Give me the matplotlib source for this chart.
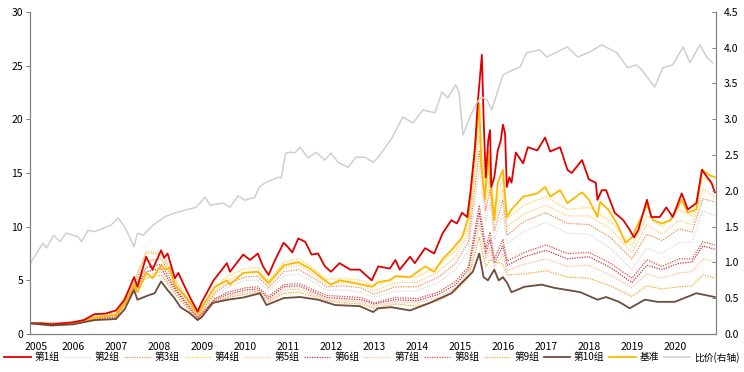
import matplotlib.pyplot as plt
import matplotlib.transforms as mtransforms

plt.rcParams['font.family'] = ['Noto Sans CJK SC', 'DejaVu Sans']

# 第1组 (red)
g1_dates = [2005.0, 2005.25, 2005.5, 2005.75, 2006.0, 2006.25, 2006.5, 2006.75, 2007.0, 2007.2,
            2007.42, 2007.5, 2007.7, 2007.85, 2008.05, 2008.12, 2008.2, 2008.37, 2008.45, 2008.6,
            2008.75, 2008.9, 2009.0, 2009.27, 2009.58, 2009.65, 2009.96, 2010.12, 2010.3, 2010.42,
            2010.55, 2010.7, 2010.9, 2011.0, 2011.1, 2011.24, 2011.4, 2011.55, 2011.7, 2011.86,
            2012.0, 2012.2, 2012.45, 2012.67, 2012.95, 2013.1, 2013.37, 2013.5, 2013.6, 2013.84,
            2013.95, 2014.19, 2014.4, 2014.6, 2014.8, 2014.93, 2015.05, 2015.17, 2015.25, 2015.35,
            2015.42, 2015.51, 2015.55, 2015.6, 2015.66, 2015.7, 2015.73, 2015.8, 2015.88, 2015.95,
            2016.0, 2016.05, 2016.09, 2016.15, 2016.2, 2016.3, 2016.47, 2016.58, 2016.8, 2016.98,
            2017.1, 2017.33, 2017.5, 2017.6, 2017.84, 2018.0, 2018.16, 2018.2, 2018.3, 2018.4,
            2018.6, 2018.8, 2018.95, 2019.05, 2019.15, 2019.35, 2019.45, 2019.65, 2019.8, 2019.95,
            2020.16, 2020.3, 2020.5, 2020.63, 2020.75, 2020.85, 2020.93]
g1_vals = [1.0, 1.0, 0.9, 1.0, 1.1, 1.3, 1.85, 1.9, 2.2, 3.2,
           5.3, 4.4, 7.2, 6.0, 7.8, 7.1, 7.5, 5.2, 5.7, 4.4,
           3.2, 2.1, 3.0, 5.0, 6.6, 5.8, 7.4, 6.9, 7.5, 6.3,
           5.5, 6.9, 8.5, 8.1, 7.6, 8.9, 8.6, 7.4, 7.5, 6.3,
           5.8, 6.6, 6.0, 6.0, 5.0, 6.3, 6.1, 6.9, 6.0, 7.2,
           6.6, 8.0, 7.5, 9.4, 10.6, 10.3, 11.3, 10.9, 13.4, 17.4,
           21.8, 26.0, 20.2, 14.6, 18.1, 19.0, 13.7, 14.6, 17.1, 18.0,
           19.5, 18.7, 13.7, 14.6, 14.1, 16.9, 15.9, 17.4, 17.1, 18.3,
           17.0, 17.4, 15.3, 15.0, 16.2, 14.4, 14.1, 12.5, 13.4, 13.4,
           11.3, 10.6, 9.7, 9.0, 9.7, 12.5, 10.9, 10.9, 11.8, 10.9,
           13.1, 11.6, 12.2, 15.3, 14.6, 14.1, 13.2]

# 基准 (benchmark)
bm_dates = [2005.0, 2005.5, 2006.0, 2006.5, 2007.0, 2007.2, 2007.42, 2007.5, 2007.7, 2007.85,
            2008.05, 2008.15, 2008.25, 2008.37, 2008.6, 2008.75, 2008.9, 2009.0, 2009.3, 2009.58,
            2009.65, 2009.96, 2010.3, 2010.55, 2010.9, 2011.24, 2011.55, 2011.86, 2012.0, 2012.2,
            2012.5, 2012.95, 2013.1, 2013.37, 2013.5, 2013.84, 2014.19, 2014.4, 2014.6, 2014.8,
            2015.05, 2015.2, 2015.35, 2015.45, 2015.5, 2015.58, 2015.66, 2015.7, 2015.8, 2015.88,
            2016.0, 2016.09, 2016.2, 2016.47, 2016.8, 2016.98, 2017.1, 2017.33, 2017.5, 2017.84,
            2018.0, 2018.2, 2018.26, 2018.45, 2018.65, 2018.85, 2019.0, 2019.35, 2019.5, 2019.7,
            2019.9, 2020.16, 2020.3, 2020.5, 2020.63, 2020.8, 2020.93]
bm_vals = [1.0, 0.85, 1.0, 1.5, 1.8, 2.8, 4.6, 3.9, 5.7, 5.2,
           6.4, 6.0, 6.2, 4.5, 3.6, 2.8, 1.9, 2.5, 4.4, 5.0,
           4.6, 5.7, 5.8, 4.75, 6.4, 6.7, 6.0, 5.0, 4.6, 5.0,
           4.8, 4.4, 4.85, 5.0, 5.4, 5.3, 6.3, 5.8, 7.0, 7.8,
           9.0, 10.9, 17.1, 21.5, 15.6, 12.5, 17.1, 14.4, 10.6, 14.1,
           15.3, 10.9, 11.6, 12.8, 13.1, 13.7, 12.8, 13.4, 12.2, 13.2,
           12.5, 10.9, 12.3, 11.6, 10.3, 8.5, 9.0, 12.0, 10.6, 10.3,
           10.6, 12.5, 11.3, 11.6, 15.3, 14.8, 14.6]

# 第10组 (brown)
g10_dates = [2005.0, 2005.5, 2006.0, 2006.5, 2007.0, 2007.2, 2007.42, 2007.5, 2007.75, 2007.9,
             2008.05, 2008.2, 2008.35, 2008.5, 2008.7, 2008.9, 2009.0, 2009.25, 2009.6, 2009.96,
             2010.35, 2010.5, 2010.9, 2011.28, 2011.7, 2012.1, 2012.67, 2012.98, 2013.1, 2013.4,
             2013.84, 2014.3, 2014.8, 2015.1, 2015.3, 2015.45, 2015.55, 2015.65, 2015.8, 2015.9,
             2016.0, 2016.1, 2016.2, 2016.5, 2016.9, 2017.2, 2017.8, 2018.2, 2018.4, 2018.7,
             2018.95, 2019.3, 2019.6, 2020.0, 2020.5, 2020.93]
g10_vals = [1.0, 0.8, 0.9, 1.3, 1.4, 2.3, 4.1, 3.2, 3.6, 3.8,
            4.9, 4.1, 3.4, 2.5, 2.0, 1.3, 1.6, 2.9, 3.2, 3.4,
            3.8, 2.7, 3.35, 3.45, 3.2, 2.7, 2.6, 2.05, 2.4, 2.5,
            2.2, 2.9, 3.8, 5.0, 5.8, 7.5, 5.3, 5.0, 6.0, 5.0,
            5.3, 4.75, 3.9, 4.4, 4.6, 4.3, 3.9, 3.2, 3.45, 3.0,
            2.4, 3.2, 3.0, 3.0, 3.8, 3.45]

# 第2组 ~ 第9组 on a coarser grid
mid_dates = [2005.0, 2006.0, 2006.5, 2007.0, 2007.42, 2007.7, 2008.05, 2008.4, 2008.9, 2009.3,
             2009.6, 2010.0, 2010.3, 2010.55, 2010.9, 2011.25, 2011.6, 2011.9, 2012.3, 2012.7,
             2013.0, 2013.5, 2014.0, 2014.5, 2014.9, 2015.2, 2015.45, 2015.6, 2015.7, 2015.8,
             2016.0, 2016.1, 2016.5, 2017.0, 2017.5, 2018.0, 2018.5, 2019.0, 2019.35, 2019.7,
             2020.1, 2020.4, 2020.65, 2020.93]
g2_vals = [1.0, 1.0, 1.5, 1.75, 4.5, 7.7, 7.8, 4.5, 1.65, 3.6, 4.4, 5.0, 5.0, 4.0, 5.4, 5.6,
           4.8, 4.1, 4.1, 3.9, 3.4, 4.0, 4.0, 4.8, 6.0, 7.8, 15.5, 10.5, 12.3, 8.8, 11.3, 8.4,
           9.6, 10.4, 9.4, 9.3, 8.0, 6.0, 8.0, 7.5, 8.5, 8.6, 11.5, 11.0]
g3_vals = [1.0, 1.0, 1.55, 1.8, 4.6, 6.8, 7.0, 4.6, 1.7, 3.8, 4.7, 5.3, 5.4, 4.3, 5.8, 6.0,
           5.2, 4.4, 4.5, 4.3, 3.7, 4.4, 4.4, 5.3, 6.6, 8.6, 17.0, 11.5, 13.5, 9.6, 12.5, 9.2,
           10.5, 11.3, 10.3, 10.2, 9.0, 7.0, 9.3, 8.7, 9.8, 9.5, 12.6, 12.3]
g4_vals = [1.0, 1.05, 1.7, 2.0, 5.0, 7.5, 7.6, 5.0, 1.9, 4.3, 5.4, 6.1, 6.2, 4.9, 6.7, 7.0,
           6.1, 5.1, 5.2, 5.0, 4.4, 5.3, 5.3, 6.4, 7.8, 10.0, 20.0, 13.5, 16.0, 11.5, 14.5, 10.8,
           12.0, 12.8, 11.6, 11.8, 10.5, 8.2, 11.0, 10.0, 11.6, 11.0, 14.6, 13.8]
g5_vals = [1.0, 1.0, 1.6, 1.9, 4.8, 7.6, 7.4, 4.8, 1.8, 4.0, 5.0, 5.7, 5.8, 4.5, 6.2, 6.4,
           5.6, 4.7, 4.8, 4.6, 4.0, 4.8, 4.8, 5.8, 7.2, 9.4, 18.5, 12.5, 14.5, 10.5, 13.5, 10.0,
           11.2, 12.0, 11.0, 11.0, 9.8, 7.6, 10.2, 9.3, 10.6, 10.2, 13.5, 12.8]
g6_vals = [1.0, 0.95, 1.4, 1.55, 4.2, 5.8, 6.1, 4.0, 1.45, 3.2, 3.7, 4.1, 4.2, 3.3, 4.4, 4.5,
           3.9, 3.4, 3.3, 3.2, 2.8, 3.2, 3.1, 3.7, 4.6, 6.0, 11.3, 7.5, 8.8, 6.6, 8.2, 6.4,
           7.2, 7.8, 7.0, 7.2, 6.2, 4.8, 6.4, 6.0, 6.6, 6.7, 8.2, 7.9]
g7_vals = [1.0, 0.95, 1.35, 1.5, 4.1, 5.5, 5.8, 3.8, 1.4, 3.1, 3.5, 3.9, 4.0, 3.1, 4.1, 4.2,
           3.7, 3.2, 3.1, 3.0, 2.6, 3.0, 2.9, 3.4, 4.3, 5.6, 10.3, 7.0, 8.0, 6.2, 7.4, 5.9,
           6.5, 7.0, 6.3, 6.4, 5.5, 4.3, 5.6, 5.2, 5.7, 5.8, 7.0, 6.7]
g8_vals = [1.0, 1.0, 1.45, 1.6, 4.3, 6.2, 6.5, 4.2, 1.5, 3.3, 3.9, 4.3, 4.4, 3.5, 4.6, 4.7,
           4.1, 3.6, 3.5, 3.4, 2.9, 3.4, 3.3, 3.9, 4.9, 6.3, 12.0, 8.0, 9.5, 7.0, 8.8, 6.8,
           7.6, 8.3, 7.5, 7.6, 6.6, 5.2, 6.9, 6.3, 7.0, 7.0, 8.6, 8.3]
g9_vals = [1.0, 0.92, 1.3, 1.45, 4.0, 5.2, 5.5, 3.6, 1.35, 3.0, 3.4, 3.7, 3.9, 3.0, 3.8, 3.9,
           3.5, 3.1, 2.9, 2.8, 2.4, 2.8, 2.6, 3.1, 4.0, 5.3, 9.0, 6.3, 6.9, 6.8, 6.5, 5.5,
           5.6, 5.9, 5.3, 5.2, 4.5, 3.5, 4.5, 4.2, 4.4, 4.5, 5.5, 5.2]

# 比价 (right axis)
ratio_dates = [2005.0, 2005.3, 2005.38, 2005.55, 2005.7, 2005.84, 2006.12, 2006.2, 2006.35, 2006.5,
               2006.88, 2007.05, 2007.2, 2007.33, 2007.42, 2007.5, 2007.63, 2007.86, 2008.14, 2008.37,
               2008.6, 2008.86, 2009.07, 2009.19, 2009.49, 2009.65, 2009.84, 2010.0, 2010.23, 2010.33,
               2010.46, 2010.77, 2010.84, 2010.95, 2011.07, 2011.16, 2011.28, 2011.47, 2011.65, 2011.86,
               2012.0, 2012.16, 2012.4, 2012.58, 2012.79, 2012.98, 2013.1, 2013.42, 2013.67, 2013.91,
               2014.14, 2014.42, 2014.58, 2014.72, 2014.9, 2014.98, 2015.07, 2015.23, 2015.4, 2015.51,
               2015.63, 2015.74, 2016.0, 2016.23, 2016.4, 2016.55, 2016.86, 2017.02, 2017.26, 2017.5,
               2017.74, 2018.02, 2018.3, 2018.65, 2018.9, 2019.1, 2019.23, 2019.53, 2019.72, 2019.95,
               2020.19, 2020.35, 2020.58, 2020.74, 2020.88]
ratio_vals = [0.98, 1.27, 1.20, 1.38, 1.29, 1.41, 1.36, 1.29, 1.45, 1.43,
              1.52, 1.62, 1.50, 1.34, 1.22, 1.41, 1.38, 1.52, 1.64, 1.69,
              1.73, 1.77, 1.91, 1.80, 1.83, 1.77, 1.93, 1.87, 1.91, 2.05,
              2.11, 2.19, 2.18, 2.53, 2.54, 2.53, 2.61, 2.46, 2.54, 2.43,
              2.53, 2.40, 2.33, 2.47, 2.47, 2.40, 2.47, 2.74, 3.03, 2.95,
              3.13, 3.09, 3.38, 3.30, 3.48, 3.38, 2.78, 3.03, 3.24, 3.31,
              3.27, 3.13, 3.62, 3.69, 3.73, 3.93, 3.97, 3.87, 3.94, 4.01,
              3.87, 3.94, 4.04, 3.93, 3.72, 3.76, 3.69, 3.45, 3.72, 3.76,
              4.01, 3.79, 4.04, 3.87, 3.79]

years = list(range(2005, 2021))

fig = plt.figure(figsize=(7.44, 3.72), dpi=100)
ax = fig.add_axes([0.0403, 0.102, 0.9217, 0.866])

dot = (0, (1, 1))
ax.plot(g1_dates, g1_vals, color='#E00000', lw=1.3, label='第1组', zorder=5)
ax.plot(mid_dates, g2_vals, color='#D9D9D9', lw=0.9, ls=dot, label='第2组')
ax.plot(mid_dates, g3_vals, color='#F08C50', lw=0.9, ls=dot, label='第3组')
ax.plot(mid_dates, g4_vals, color='#FFD23C', lw=0.9, ls=dot, label='第4组')
ax.plot(mid_dates, g5_vals, color='#FFC878', lw=0.9, ls=dot, label='第5组')
ax.plot(mid_dates, g6_vals, color='#C8324B', lw=0.9, ls=dot, label='第6组')
ax.plot(mid_dates, g7_vals, color='#FFB98C', lw=0.9, ls=dot, label='第7组')
ax.plot(mid_dates, g8_vals, color='#E0503C', lw=0.9, ls=dot, label='第8组')
ax.plot(mid_dates, g9_vals, color='#F0A830', lw=0.9, ls=dot, label='第9组')
ax.plot(g10_dates, g10_vals, color='#6E4B3C', lw=1.3, label='第10组', zorder=5)
ax.plot(bm_dates, bm_vals, color='#FFB800', lw=1.3, label='基准', zorder=4)

ax2 = ax.twinx()
ax2.plot(ratio_dates, ratio_vals, color='#CFCFCF', lw=1.1, label='比价(右轴)')

ax.set_xlim(2005, 2020.95)
ax.set_ylim(0, 30)
ax2.set_ylim(0, 4.5)
ax.set_xticks(years)
ax.set_xticklabels([str(y) for y in years])
ax.set_yticks(range(0, 31, 5))
ax2.set_yticks([i * 0.5 for i in range(10)])
ax2.set_yticklabels(['%.1f' % (i * 0.5) for i in range(10)])

for a in (ax, ax2):
    a.spines['top'].set_visible(False)
    for s in ('left', 'right', 'bottom'):
        a.spines[s].set_color('#808080')
        a.spines[s].set_linewidth(0.8)
ax.tick_params(axis='y', direction='out', length=3, width=0.7, color='#808080', labelsize=7.5, pad=2)
ax.tick_params(axis='x', direction='out', length=0, labelsize=7.5, pad=6)
ax2.tick_params(axis='y', direction='in', length=3, width=0.7, color='#808080', labelsize=7.5, pad=6)

# first year label sits a little right of the axis corner, as in the source
first = ax.get_xticklabels()[0]
first.set_transform(first.get_transform() + mtransforms.ScaledTranslation(6 / 100, 0, fig.dpi_scale_trans))

h1, l1 = ax.get_legend_handles_labels()
h2, l2 = ax2.get_legend_handles_labels()
fig.legend(h1 + h2, l1 + l2, loc='center', ncol=12, frameon=False, fontsize=7,
           bbox_to_anchor=(0.5, 0.04),
           handlelength=2.7, handletextpad=0.4, columnspacing=0.5, borderaxespad=0)

fig.savefig('out.png', dpi=100)
